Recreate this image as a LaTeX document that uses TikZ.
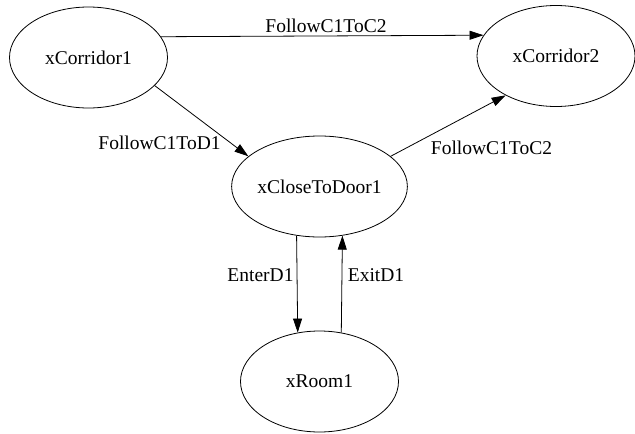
\documentclass[tikz,border=0pt]{standalone}
\usepackage{fontspec}
\setmainfont{Liberation Serif}
\usepackage{tikz}
\usetikzlibrary{shapes.geometric,arrows.meta}

\begin{document}
\begin{tikzpicture}[x=1pt,y=-1pt,line width=0.8pt,
    every node/.style={font=\fontsize{19.5}{23}\selectfont},
    state/.style={draw,ellipse,minimum width=158pt,minimum height=101pt,inner sep=0pt},
    trans/.style={-{Triangle[length=14pt,width=9pt]}},
    lbl/.style={inner sep=0pt}]
    \useasboundingbox (0,0) rectangle (635,434);

    \node[state] (c1) at (88.5,57.5) {xCorridor1};
    \node[state] (c2) at (556,56) {xCorridor2};
    \node[state] (door) at (319.5,186.5) {xCloseToDoor1};
    \node[state] (room) at (319.5,381.5) {xRoom1};

    \draw[trans] (c1.16.7) -- (c2.164.6);
    \draw[trans] (c1.-23.7) -- (door.157.1);
    \draw[trans] (door.23.5) -- (c2.-142.4);
    \draw[trans] (door.-115) -- (room.114);
    \draw[trans] (room.66) -- (door.-65);

    \node[lbl] (l1) at (326,26) {FollowC1ToC2};
    \node[lbl] (l2) at (159.5,143) {FollowC1ToD1};
    \node[lbl] (l3) at (491.5,148) {FollowC1ToC2};
    \node[lbl] (l4) at (260.5,275) {EnterD1};
    \node[lbl] (l5) at (376,275) {ExitD1};
\end{tikzpicture}
\end{document}
